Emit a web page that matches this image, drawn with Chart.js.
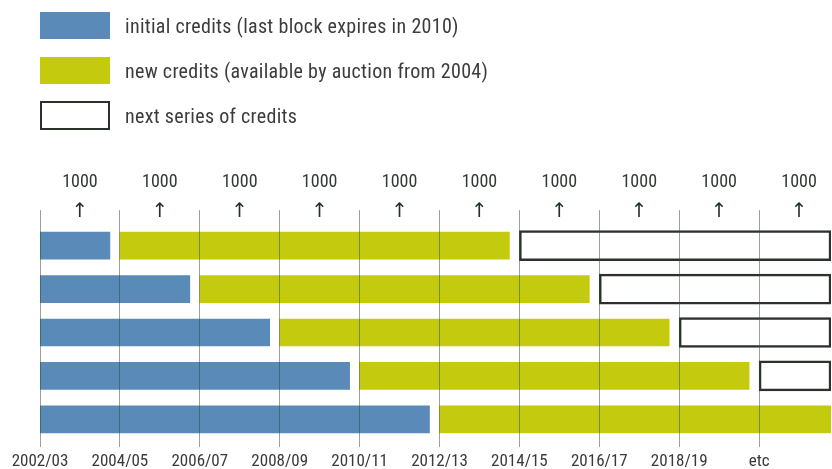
<!DOCTYPE html>
<html>
<head>
<meta charset="utf-8">
<script src="https://cdn.jsdelivr.net/npm/chart.js@4/dist/chart.umd.min.js"></script>
<style>
    html, body { margin: 0; padding: 0; background: #fff; }
    #wrap { position: relative; width: 832px; height: 469px; }
    #chart { position: absolute; left: 0; top: 0; }
    #legend {
        position: absolute; left: 40px; top: 12px;
        font-family: 'Roboto Condensed', 'DejaVu Sans Condensed', sans-serif;
        font-size: 20px; letter-spacing: 0.3px; color: #3c3c3c;
    }
    .item { display: flex; align-items: center; height: 27px; margin-bottom: 18px; }
    .swatch { width: 70px; height: 27px; box-sizing: border-box; margin-right: 15px; }
</style>
</head>
<body>
<div id="wrap">
    <canvas id="chart" width="832" height="469"></canvas>
    <div id="legend"></div>
</div>
<script>
// Rows of credit blocks, top to bottom
const rows = ['block 1', 'block 2', 'block 3', 'block 4', 'block 5'];

// Years (2002 = start of 2002/03)
const initialStart = [2002, 2002, 2002, 2002, 2002];
const initialEnd = [2003.75, 2005.75, 2007.75, 2009.75, 2011.75];
const newStart = [2004, 2006, 2008, 2010, 2012];
const newEnd = [2013.75, 2015.75, 2017.75, 2019.75, 2021.8];
const nextStart = [2014, 2016, 2018, 2020, null];
const nextEnd = [2021.8, 2021.8, 2021.8, 2021.8, null];

// Bottom axis
const periodYears = [2002, 2004, 2006, 2008, 2010, 2012, 2014, 2016, 2018, 2020];
const periodLabels = ['2002/03', '2004/05', '2006/07', '2008/09', '2010/11', '2012/13', '2014/15', '2016/17', '2018/19', 'etc'];

// Credits auctioned every two years (top labels)
const auctionYears = [2003, 2005, 2007, 2009, 2011, 2013, 2015, 2017, 2019, 2021];
const auctionAmounts = [1000, 1000, 1000, 1000, 1000, 1000, 1000, 1000, 1000, 1000];

const axisMin = 2002;
const axisMax = 2021.8;

const FONT = "'Roboto Condensed', 'DejaVu Sans Condensed', sans-serif";
const BLUE = '#5a8ab7';
const YELLOW = '#c4ca0d';
const OUTLINE = '#2b312b';
const GRID = 'rgba(45, 75, 45, 0.5)';

function pairs(starts, ends) {
    return starts.map((s, i) => (s === null ? null : [s, ends[i]]));
}

const datasets = [
    {
        label: 'initial credits (last block expires in 2010)',
        data: pairs(initialStart, initialEnd),
        backgroundColor: BLUE,
        borderWidth: 0,
        barThickness: 27,
        grouped: false
    },
    {
        label: 'new credits (available by auction from 2004)',
        data: pairs(newStart, newEnd),
        backgroundColor: YELLOW,
        borderWidth: 0,
        barThickness: 27,
        grouped: false
    },
    {
        label: 'next series of credits',
        data: pairs(nextStart, nextEnd),
        backgroundColor: '#ffffff',
        borderColor: OUTLINE,
        borderWidth: 2.5,
        borderSkipped: false,
        barThickness: 30,
        grouped: false
    }
];

// HTML legend built from the datasets
const legendEl = document.getElementById('legend');
datasets.forEach(ds => {
    const item = document.createElement('div');
    item.className = 'item';
    const sw = document.createElement('div');
    sw.className = 'swatch';
    sw.style.background = ds.backgroundColor;
    if (ds.borderWidth) {
        sw.style.border = '2.5px solid ' + ds.borderColor;
        sw.style.height = '29px';
    }
    const txt = document.createElement('span');
    txt.textContent = ds.label;
    item.appendChild(sw);
    item.appendChild(txt);
    legendEl.appendChild(item);
});

const topTicks = periodYears.concat(auctionYears).sort((a, b) => a - b);

new Chart(document.getElementById('chart'), {
    type: 'bar',
    data: { labels: rows, datasets: datasets },
    options: {
        indexAxis: 'y',
        responsive: false,
        animation: false,
        layout: { padding: { top: 210, left: 40, right: 1, bottom: 0 } },
        plugins: {
            legend: { display: false },
            tooltip: { enabled: false }
        },
        scales: {
            y: { display: false },
            x: {
                type: 'linear',
                position: 'bottom',
                min: axisMin,
                max: axisMax,
                border: { display: false },
                grid: { color: GRID, lineWidth: 1, tickLength: 6, z: 1 },
                afterBuildTicks: scale => {
                    scale.ticks = periodYears.map(v => ({ value: v }));
                },
                afterFit: scale => { scale.height = 28; },
                ticks: {
                    autoSkip: false,
                    maxRotation: 0,
                    padding: 6,
                    color: '#3a3a3a',
                    font: { family: FONT, size: 17, lineHeight: 1 },
                    callback: value => periodLabels[periodYears.indexOf(value)]
                }
            },
            // "1000" labels and short grid ticks above the bars
            x2: {
                type: 'linear',
                position: 'top',
                weight: 0,
                min: axisMin,
                max: axisMax,
                border: { display: false },
                grid: {
                    drawOnChartArea: false,
                    tickLength: 14,
                    lineWidth: 1,
                    color: ctx => (periodYears.includes(ctx.tick.value) ? GRID : 'rgba(0,0,0,0)')
                },
                afterBuildTicks: scale => {
                    scale.ticks = topTicks.map(v => ({ value: v }));
                },
                afterFit: scale => { scale.height = 14; },
                ticks: {
                    autoSkip: false,
                    maxRotation: 0,
                    mirror: true,
                    padding: -50.5,
                    color: '#2f3a30',
                    font: { family: FONT, size: 18, lineHeight: 1 },
                    callback: value => {
                        const i = auctionYears.indexOf(value);
                        return i === -1 ? '' : String(auctionAmounts[i]);
                    }
                }
            },
            // up arrows under each "1000"
            x3: {
                type: 'linear',
                position: 'top',
                weight: 1,
                min: axisMin,
                max: axisMax,
                border: { display: false },
                grid: { display: false },
                afterBuildTicks: scale => {
                    scale.ticks = auctionYears.map(v => ({ value: v }));
                },
                afterFit: scale => { scale.height = 0; },
                ticks: {
                    autoSkip: false,
                    maxRotation: 0,
                    mirror: true,
                    padding: -8,
                    color: '#1f3524',
                    font: { family: "'DejaVu Sans', sans-serif", size: 20, lineHeight: 1 },
                    callback: () => '\u2191'
                }
            }
        }
    }
});
</script>
</body>
</html>
